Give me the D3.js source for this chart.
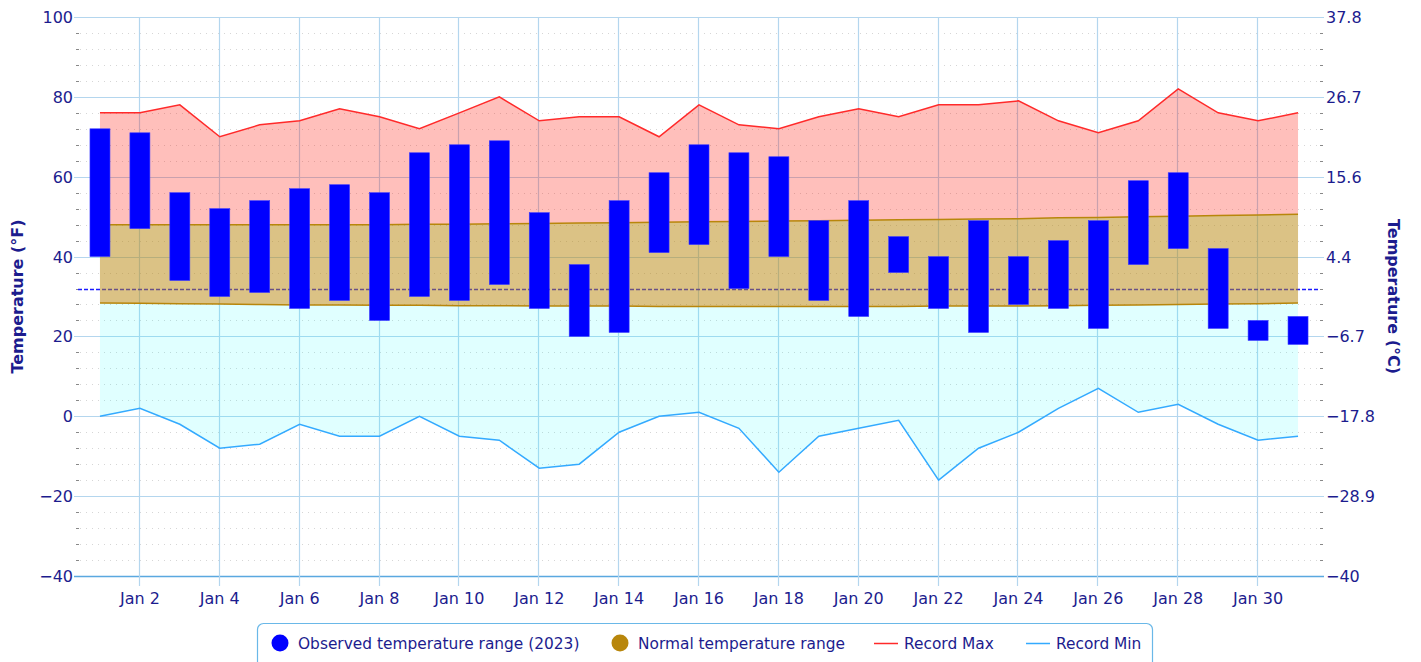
<!DOCTYPE html>
<html>
<head>
<meta charset="utf-8">
<script src="https://cdn.jsdelivr.net/npm/d3@7"></script>
<style>
	body { margin: 0; background: #fff; }
	svg { display: block; font-family: 'DejaVu Sans', Verdana, sans-serif; }
</style>
</head>
<body>
<div id="chart"></div>
<script>
const DAYS = d3.range(1, 32);
const OBS_HIGH = [72, 71, 56, 52, 54, 57, 58, 56, 66, 68, 69, 51, 38, 54, 61, 68, 66, 65, 49, 54, 45, 40, 49, 40, 44, 49, 59, 61, 42, 24, 25];
const OBS_LOW = [40, 47, 34, 30, 31, 27, 29, 24, 30, 29, 33, 27, 20, 21, 41, 43, 32, 40, 29, 25, 36, 27, 21, 28, 27, 22, 38, 42, 22, 19, 18];
const NORMAL_HIGH = [48.0, 48.0, 48.0, 48.0, 48.0, 48.0, 48.0, 48.0, 48.1, 48.1, 48.2, 48.3, 48.4, 48.5, 48.6, 48.7, 48.8, 48.9, 49.0, 49.1, 49.2, 49.3, 49.4, 49.5, 49.7, 49.8, 50.0, 50.1, 50.3, 50.4, 50.6];
const NORMAL_LOW = [28.4, 28.3, 28.2, 28.1, 28.0, 27.9, 27.9, 27.8, 27.8, 27.7, 27.7, 27.6, 27.6, 27.6, 27.5, 27.5, 27.5, 27.5, 27.5, 27.5, 27.5, 27.6, 27.6, 27.6, 27.7, 27.8, 27.9, 28.0, 28.1, 28.2, 28.4];
const RECORD_MAX = [76, 76, 78, 70, 73, 74, 77, 75, 72, 76, 80, 74, 75, 75, 70, 78, 73, 72, 75, 77, 75, 78, 78, 79, 74, 71, 74, 82, 76, 74, 76];
const RECORD_MIN = [0, 2, -2, -8, -7, -2, -5, -5, 0, -5, -6, -13, -12, -4, 0, 1, -3, -14, -5, -3, -1, -16, -8, -4, 2, 7, 1, 3, -2, -6, -5];
const F_TICKS = [-40, -20, 0, 20, 40, 60, 80, 100];
const C_LABELS = ['−40', '−28.9', '−17.8', '−6.7', '4.4', '15.6', '26.7', '37.8'];
const X_TICKS = d3.range(2, 31, 2);
const FREEZING = 32;

const LEGEND_ITEMS = [
	{ label: 'Observed temperature range (2023)', type: 'dot', color: '#0000ff' },
	{ label: 'Normal temperature range', type: 'dot', color: '#b8860b' },
	{ label: 'Record Max', type: 'line', color: '#ff2a2a' },
	{ label: 'Record Min', type: 'line', color: '#33aaff' }
];

const WIDTH = 1421;
const HEIGHT = 662;
const LEFT = 80;
const RIGHT = 1318;
const TOP = 17;
const BOTTOM = 576;
const TEXT_COLOR = '#1c1c8e';
const GRID_COLOR = '#b4d6ee';
const BAR_WIDTH = 20;

const main = () => {
	const rows = DAYS.map((day, i) => ({
		day,
		obsHigh: OBS_HIGH[i],
		obsLow: OBS_LOW[i],
		normHigh: NORMAL_HIGH[i],
		normLow: NORMAL_LOW[i],
		recMax: RECORD_MAX[i],
		recMin: RECORD_MIN[i]
	}));

	const svg = d3.select('#chart')
		.append('svg')
		.attr('width', WIDTH)
		.attr('height', HEIGHT);

	// scales
	const xScale = d3.scaleLinear().domain([0.5, 31.5]).range([LEFT, RIGHT]);
	const yScale = d3.scaleLinear().domain([-40, 100]).range([BOTTOM, TOP]);

	// minor dotted grid every 4 degrees
	const minorTicks = d3.range(-40, 101, 4).filter(v => v % 20 !== 0);
	svg.append('g')
		.selectAll('line')
		.data(minorTicks)
		.enter()
		.append('line')
		.attr('x1', LEFT)
		.attr('x2', RIGHT)
		.attr('y1', d => Math.round(yScale(d)) + 0.5)
		.attr('y2', d => Math.round(yScale(d)) + 0.5)
		.attr('stroke', '#d6d6d6')
		.attr('stroke-dasharray', '1,5');

	// minor tick marks on both sides
	[[LEFT - 4, LEFT - 1], [RIGHT + 2, RIGHT + 5]].forEach(([a, b]) => {
		svg.append('g')
			.selectAll('line')
			.data(minorTicks)
			.enter()
			.append('line')
			.attr('x1', a)
			.attr('x2', b)
			.attr('y1', d => Math.round(yScale(d)) + 0.5)
			.attr('y2', d => Math.round(yScale(d)) + 0.5)
			.attr('stroke', '#888');
	});

	// major horizontal grid
	svg.append('g')
		.selectAll('line')
		.data(F_TICKS)
		.enter()
		.append('line')
		.attr('x1', LEFT - 6)
		.attr('x2', RIGHT + 6)
		.attr('y1', d => Math.round(yScale(d)) + 0.5)
		.attr('y2', d => Math.round(yScale(d)) + 0.5)
		.attr('stroke', d => d === -40 ? '#5aa8e0' : GRID_COLOR)
		.attr('stroke-width', d => d === -40 ? 1.5 : 1.2);

	// vertical grid
	svg.append('g')
		.selectAll('line')
		.data(X_TICKS)
		.enter()
		.append('line')
		.attr('x1', d => Math.round(xScale(d)) - 0.5)
		.attr('x2', d => Math.round(xScale(d)) - 0.5)
		.attr('y1', TOP)
		.attr('y2', BOTTOM + 10)
		.attr('stroke', GRID_COLOR)
		.attr('stroke-width', 1.2);

	// freezing line
	svg.append('line')
		.attr('x1', LEFT - 2)
		.attr('x2', RIGHT)
		.attr('y1', Math.round(yScale(FREEZING)) + 0.5)
		.attr('y2', Math.round(yScale(FREEZING)) + 0.5)
		.attr('stroke', '#1a1aff')
		.attr('stroke-width', 1.3)
		.attr('stroke-dasharray', '4,2');

	// areas
	const band = (lo, hi) => d3.area()
		.x(d => xScale(d.day))
		.y0(d => yScale(d[lo]))
		.y1(d => yScale(d[hi]));

	svg.append('path')
		.datum(rows)
		.attr('d', band('normHigh', 'recMax'))
		.attr('fill', '#ff1a0a')
		.attr('fill-opacity', 0.28);
	svg.append('path')
		.datum(rows)
		.attr('d', band('recMin', 'normLow'))
		.attr('fill', '#00ffff')
		.attr('fill-opacity', 0.12);
	svg.append('path')
		.datum(rows)
		.attr('d', band('normLow', 'normHigh'))
		.attr('fill', '#b8860b')
		.attr('fill-opacity', 0.5);

	// normal range borders
	['normLow', 'normHigh'].forEach(key => {
		svg.append('path')
			.datum(rows)
			.attr('d', d3.line().x(d => xScale(d.day)).y(d => yScale(d[key])))
			.attr('fill', 'none')
			.attr('stroke', '#b8860b')
			.attr('stroke-width', 1.5);
	});

	// record lines
	svg.append('path')
		.datum(rows)
		.attr('d', d3.line().x(d => xScale(d.day)).y(d => yScale(d.recMax)))
		.attr('fill', 'none')
		.attr('stroke', '#ff2a2a')
		.attr('stroke-width', 1.5);
	svg.append('path')
		.datum(rows)
		.attr('d', d3.line().x(d => xScale(d.day)).y(d => yScale(d.recMin)))
		.attr('fill', 'none')
		.attr('stroke', '#33aaff')
		.attr('stroke-width', 1.5);

	// observed bars
	svg.append('g')
		.selectAll('rect')
		.data(rows)
		.enter()
		.append('rect')
		.attr('x', d => xScale(d.day) - BAR_WIDTH / 2)
		.attr('width', BAR_WIDTH)
		.attr('y', d => yScale(d.obsHigh))
		.attr('height', d => yScale(d.obsLow) - yScale(d.obsHigh))
		.attr('fill', '#0000ff')
		.attr('stroke', '#3a3aff')
		.attr('stroke-width', 0.6);

	// left axis labels
	svg.append('g')
		.selectAll('text')
		.data(F_TICKS)
		.enter()
		.append('text')
		.attr('x', LEFT - 7)
		.attr('y', d => yScale(d) + 6)
		.attr('text-anchor', 'end')
		.style('font-size', '16px')
		.attr('fill', TEXT_COLOR)
		.text(d => d < 0 ? '−' + Math.abs(d) : d);

	// right axis labels (Celsius)
	svg.append('g')
		.selectAll('text')
		.data(F_TICKS)
		.enter()
		.append('text')
		.attr('x', RIGHT + 8)
		.attr('y', d => yScale(d) + 6)
		.attr('text-anchor', 'start')
		.style('font-size', '16px')
		.attr('fill', TEXT_COLOR)
		.text((d, i) => C_LABELS[i]);

	// x labels
	svg.append('g')
		.selectAll('text')
		.data(X_TICKS)
		.enter()
		.append('text')
		.attr('x', d => xScale(d))
		.attr('y', 604)
		.attr('text-anchor', 'middle')
		.style('font-size', '16px')
		.attr('fill', TEXT_COLOR)
		.text(d => `Jan ${d}`);

	// axis titles
	svg.append('text')
		.attr('transform', `translate(23, ${(TOP + BOTTOM) / 2}) rotate(-90)`)
		.attr('text-anchor', 'middle')
		.style('font-size', '16px')
		.style('font-weight', 'bold')
		.attr('fill', TEXT_COLOR)
		.text('Temperature (°F)');
	svg.append('text')
		.attr('transform', `translate(1388, ${(TOP + BOTTOM) / 2}) rotate(90)`)
		.attr('text-anchor', 'middle')
		.style('font-size', '16px')
		.style('font-weight', 'bold')
		.attr('fill', TEXT_COLOR)
		.text('Temperature (°C)');

	// legend
	const legend = svg.append('g');
	legend.append('rect')
		.attr('x', 257.5)
		.attr('y', 623.5)
		.attr('width', 895)
		.attr('height', 48)
		.attr('rx', 6)
		.attr('fill', '#fff')
		.attr('stroke', '#6ab8e8')
		.attr('stroke-width', 1.2);

	const LEGEND_X = [280, 620, 874, 1026];
	LEGEND_ITEMS.forEach((item, i) => {
		const x = LEGEND_X[i];
		if (item.type === 'dot') {
			legend.append('circle')
				.attr('cx', x)
				.attr('cy', 643)
				.attr('r', 8.5)
				.attr('fill', item.color);
		} else {
			legend.append('line')
				.attr('x1', x)
				.attr('x2', x + 24)
				.attr('y1', 643.5)
				.attr('y2', 643.5)
				.attr('stroke', item.color)
				.attr('stroke-width', 1.5);
		}
		legend.append('text')
			.attr('x', item.type === 'dot' ? x + 18 : x + 30)
			.attr('y', 649)
			.style('font-size', '15.4px')
			.attr('fill', TEXT_COLOR)
			.text(item.label);
	});
};

main();
</script>
</body>
</html>
